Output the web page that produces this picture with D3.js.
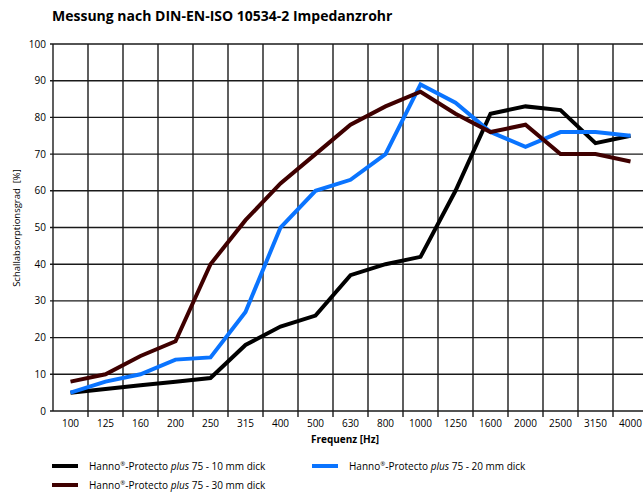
<!DOCTYPE html>
<html>
<head>
<meta charset="utf-8">
<script src="https://d3js.org/d3.v7.min.js"></script>
<style>
  body { margin: 0; background: #fff; }
  text { font-family: "Open Sans", "Noto Sans", sans-serif; }
</style>
</head>
<body>
<div id="chart"></div>
<script>
// frequency bands (Hz)
var freqs = ["100","125","160","200","250","315","400","500","630","800","1000","1250","1600","2000","2500","3150","4000"];
// absorption values in %
var dick10 = [5, 6, 7, 8, 9, 18, 23, 26, 37, 40, 42, 60, 81, 83, 82, 73, 75];
var dick20 = [5, 8, 10, 14, 14.6, 27, 50, 60, 63, 70, 89, 84, 76, 72, 76, 76, 75];
var dick30 = [8, 10, 15, 19, 40, 52, 62, 70, 78, 83, 87, 81, 76, 78, 70, 70, 68];
var yTicks = [0, 10, 20, 30, 40, 50, 60, 70, 80, 90, 100];

var series = [
  {name: "10 mm dick", values: dick10, color: "#000000"},
  {name: "20 mm dick", values: dick20, color: "#0a74ff"},
  {name: "30 mm dick", values: dick30, color: "#3f0000"}
];

var W = 643, H = 492;
var plot = {left: 53, right: 648, top: 44, bottom: 411};

var svg = d3.select("#chart").append("svg")
  .attr("width", W).attr("height", H);

var x = d3.scaleBand().domain(freqs).range([plot.left, plot.right]);
var y = d3.scaleLinear().domain([0, 100]).range([plot.bottom, plot.top]);

// title
svg.append("text")
  .attr("x", 52).attr("y", 21)
  .attr("font-size", 14).attr("font-weight", "bold")
  .text("Messung nach DIN-EN-ISO 10534-2 Impedanzrohr");

// horizontal grid
svg.append("g").selectAll("line").data(yTicks).enter().append("line")
  .attr("x1", plot.left - 3).attr("x2", plot.right)
  .attr("y1", d => y(d)).attr("y2", d => y(d))
  .attr("stroke", "#1a1a1a").attr("stroke-width", 1.4);

// vertical grid (band boundaries)
var bounds = freqs.map(f => x(f)).concat([plot.right]);
svg.append("g").selectAll("line").data(bounds).enter().append("line")
  .attr("x1", d => d).attr("x2", d => d)
  .attr("y1", plot.top).attr("y2", (d, i) => i == 0 ? plot.bottom : plot.bottom + 6)
  .attr("stroke", "#1a1a1a").attr("stroke-width", 1.4);

// y tick labels
svg.append("g").selectAll("text").data(yTicks).enter().append("text")
  .attr("x", 46).attr("y", d => y(d) + 3.5)
  .attr("text-anchor", "end").attr("font-size", 10)
  .text(d => d);

// x tick labels
svg.append("g").selectAll("text").data(freqs).enter().append("text")
  .attr("x", d => x(d) + x.bandwidth() / 2).attr("y", 427)
  .attr("text-anchor", "middle").attr("font-size", 10)
  .text(d => d);

// axis titles
svg.append("text")
  .attr("x", 345).attr("y", 443)
  .attr("text-anchor", "middle").attr("font-size", 10).attr("font-weight", "bold")
  .text("Frequenz [Hz]");
svg.append("text")
  .attr("transform", "translate(20," + 228 + ") rotate(-90)")
  .attr("text-anchor", "middle").attr("font-size", 9.5)
  .attr("xml:space", "preserve")
  .text("Schallabsorptionsgrad  [%]");

// lines
var line = d3.line()
  .x((d, i) => x(freqs[i]) + x.bandwidth() / 2)
  .y(d => y(d));

svg.append("g").selectAll("path").data(series).enter().append("path")
  .attr("d", d => line(d.values))
  .attr("fill", "none")
  .attr("stroke", d => d.color)
  .attr("stroke-width", 4)
  .attr("stroke-linejoin", "miter");

// legend
var legPos = [{x: 52, y: 466}, {x: 312, y: 466}, {x: 52, y: 485}];
var leg = svg.append("g").selectAll("g").data(series).enter().append("g")
  .attr("transform", (d, i) => "translate(" + legPos[i].x + "," + legPos[i].y + ")");
leg.append("line")
  .attr("x1", 0).attr("x2", 26).attr("y1", 0).attr("y2", 0)
  .attr("stroke", d => d.color).attr("stroke-width", 4);
var lt = leg.append("text").attr("x", 37).attr("y", 3.5).attr("font-size", 10);
lt.append("tspan").text("Hanno");
lt.append("tspan").attr("font-size", 6).attr("dy", -4).text("®");
lt.append("tspan").attr("dy", 4).text("-Protecto ");
lt.append("tspan").attr("font-style", "italic").text("plus");
lt.append("tspan").text(d => " 75 - " + d.name);
</script>
</body>
</html>
